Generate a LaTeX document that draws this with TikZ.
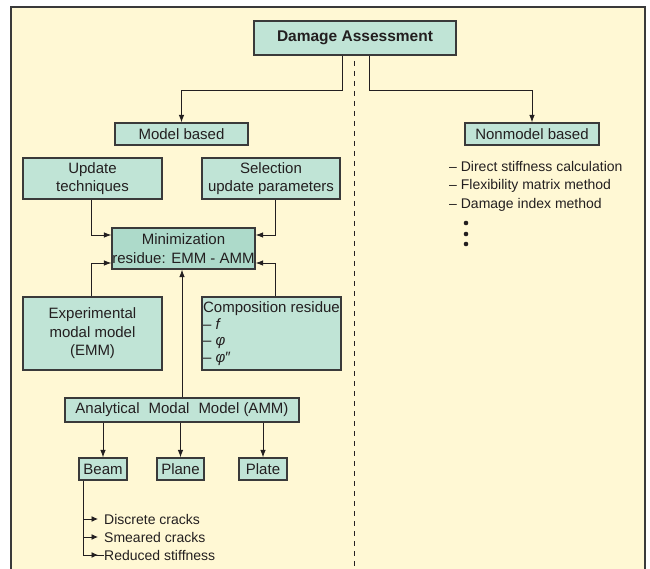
\documentclass[tikz,border=0pt]{standalone}
\usepackage{fontspec}
\setmainfont{Liberation Sans}
\usetikzlibrary{arrows.meta}
\definecolor{paper}{HTML}{FFF8D4}
\definecolor{boxfill}{HTML}{C0E4D6}
\definecolor{minifill}{HTML}{ADDACA}
\definecolor{ink}{HTML}{231F20}
\definecolor{rim}{HTML}{3A3A3A}
\tikzset{
    box/.style={draw=rim,fill=boxfill,line width=1.1pt,text=ink,align=center,inner sep=0pt,
        font=\fontsize{15}{18.5}\selectfont},
    listtext/.style={anchor=west,inner sep=0pt,text=ink,font=\fontsize{14}{17}\selectfont},
    link/.style={->,draw=ink,line width=0.9pt}
}
\begin{document}
\begin{tikzpicture}[x=1pt,y=-1pt,>={Latex[length=7.5pt,width=5.5pt]}]
        \useasboundingbox(0,0)rectangle(650,569);
        % frame
        \fill[paper](11,7)rectangle(645,575);
        \draw[rim,line width=1.4pt](11,575)--(11,7)--(645,7)--(645,575);
        \draw[ink,line width=0.9pt,dash pattern=on 5pt off 5pt](354,61)--(354,569);
        % boxes
        \node[box,minimum width=202pt,minimum height=34pt,font=\fontsize{15.5}{18}\bfseries](dam)at(355,38){Damage Assessment};
        \node[box,minimum width=133pt,minimum height=22pt](model)at(181.5,134){Model based};
        \node[box,minimum width=134pt,minimum height=22pt](nonmodel)at(532,134){Nonmodel based};
        \node[box,minimum width=139pt,minimum height=41pt](upd)at(92.5,178.5){Update\\techniques};
        \node[box,minimum width=138pt,minimum height=41pt](sel)at(271,178.5){Selection\\update parameters};
        \node[box,fill=minifill,minimum width=143pt,minimum height=41pt](mini)at(183.5,248.5){Minimization\\residue: EMM - AMM};
        \node[box,minimum width=139pt,minimum height=73pt](emm)at(92.5,333.5){Experimental\\modal model\\(EMM)};
        \node[box,minimum width=139pt,minimum height=73pt,align=left,
            font=\fontsize{15}{16.7}\selectfont](comp)at(271.5,333.5){Composition residue\\– \textit{f}\\– \textit{φ}\\– \textit{φ}″};
        \node[box,minimum width=234pt,minimum height=24pt](amm)at(182,410){Analytical\hspace{0.6em}Modal\hspace{0.6em}Model (AMM)};
        \node[box,minimum width=48pt,minimum height=22pt](beam)at(103,469){Beam};
        \node[box,minimum width=47pt,minimum height=22pt](plane)at(180.5,469){Plane};
        \node[box,minimum width=48pt,minimum height=22pt](plate)at(263,469){Plate};
        % lists
        \node[listtext](dsc)at(449,166){– Direct stiffness calculation};
        \node[listtext](fmm)at(449,185.5){– Flexibility matrix method};
        \node[listtext](dim)at(449,204.5){– Damage index method};
        \foreach \y in {223,234,244}
            {
                \fill[ink](466,\y)circle(2.3);
            }
        \node[listtext](dc)at(104,519){Discrete cracks};
        \node[listtext](sc)at(104,537){Smeared cracks};
        \node[listtext](rs)at(104,555){Reduced stiffness};
        % connectors
        \coordinate(dl)at([xshift=-13pt]dam.south);
        \coordinate(dr)at([xshift=14pt]dam.south);
        \draw[link](dl)--++(0,35)-|(model.north);
        \draw[link](dr)--++(0,35)-|(nonmodel.north);
        \draw[link]([xshift=-1.5pt]upd.south)|-([yshift=13.5pt]mini.west);
        \draw[link]([xshift=4pt]sel.south)|-([yshift=13.5pt]mini.east);
        \draw[link]([xshift=-1.5pt]emm.north)|-([yshift=-14.5pt]mini.west);
        \draw[link]([xshift=3.5pt]comp.north)|-([yshift=-14.5pt]mini.east);
        \draw[link](amm.north)--(amm.north|-mini.south);
        \draw[link](amm.south-|beam.north)--(beam.north);
        \draw[link](amm.south-|plane.north)--(plane.north);
        \draw[link](amm.south-|plate.north)--(plate.north);
        \coordinate(bl)at([xshift=5pt]beam.south west);
        \draw[ink,line width=0.9pt](bl)|-(rs.west);
        \foreach \t in {dc,sc,rs}
            {
                \draw[link,>={Latex[length=6.5pt,width=6pt]}](bl|-\t.west)--([xshift=-6pt]\t.west);
            }
    \end{tikzpicture}
\end{document}
